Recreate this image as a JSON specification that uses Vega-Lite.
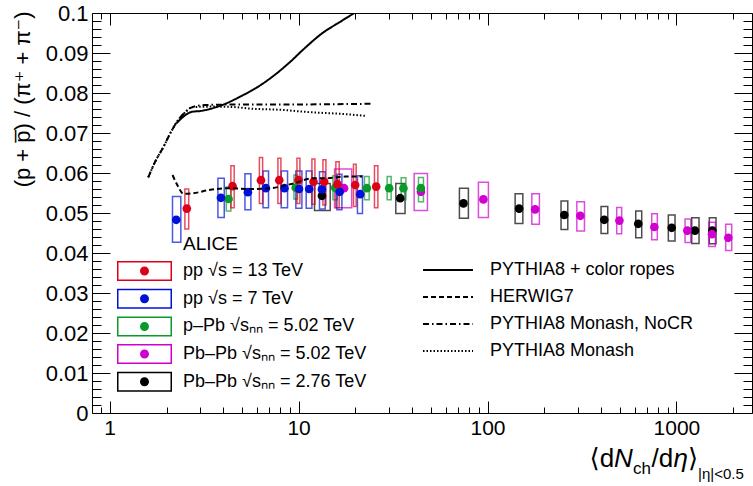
{
  "$schema": "https://vega.github.io/schema/vega-lite/v6.json",
  "width": 660,
  "height": 400,
  "autosize": {"type": "none"},
  "padding": {"left": 92, "top": 13, "right": 1, "bottom": 73},
  "background": "white",
  "config": {
    "view": {"stroke": null},
    "axis": {"grid": false, "domainColor": "#000", "domainWidth": 1, "tickColor": "#000", "tickWidth": 1, "labelColor": "#000", "titleColor": "#000", "labelFont": "Liberation Sans", "titleFont": "Liberation Sans, DejaVu Sans", "titleFontWeight": "normal", "labelOverlap": false, "labelFlush": false, "labelBound": false},
    "legend": {"labelFont": "Liberation Sans", "titleFont": "Liberation Sans", "labelColor": "#000", "titleColor": "#000"}
  },
  "datasets": {
    "pts": [
      {"sys": "Pb–Pb √sₙₙ = 2.76 TeV", "x": 13.29, "y": 0.0543, "xlo": 12.14, "xhi": 14.70, "ylo": 0.0506, "yhi": 0.0574},
      {"sys": "Pb–Pb √sₙₙ = 2.76 TeV", "x": 34.5, "y": 0.0537, "xlo": 32.7, "xhi": 36.6, "ylo": 0.0499, "yhi": 0.0574},
      {"sys": "Pb–Pb √sₙₙ = 2.76 TeV", "x": 74.6, "y": 0.0524, "xlo": 71.0, "xhi": 79.2, "ylo": 0.0487, "yhi": 0.0562},
      {"sys": "Pb–Pb √sₙₙ = 2.76 TeV", "x": 147, "y": 0.0511, "xlo": 140, "xhi": 153.8, "ylo": 0.0474, "yhi": 0.0548},
      {"sys": "Pb–Pb √sₙₙ = 2.76 TeV", "x": 255, "y": 0.0495, "xlo": 245, "xhi": 266, "ylo": 0.0459, "yhi": 0.0530},
      {"sys": "Pb–Pb √sₙₙ = 2.76 TeV", "x": 415, "y": 0.0483, "xlo": 399, "xhi": 433, "ylo": 0.0449, "yhi": 0.0516},
      {"sys": "Pb–Pb √sₙₙ = 2.76 TeV", "x": 628, "y": 0.0473, "xlo": 609, "xhi": 655, "ylo": 0.0438, "yhi": 0.0505},
      {"sys": "Pb–Pb √sₙₙ = 2.76 TeV", "x": 944, "y": 0.0463, "xlo": 906, "xhi": 983, "ylo": 0.0430, "yhi": 0.0495},
      {"sys": "Pb–Pb √sₙₙ = 2.76 TeV", "x": 1254, "y": 0.0456, "xlo": 1205, "xhi": 1317, "ylo": 0.0424, "yhi": 0.0488},
      {"sys": "Pb–Pb √sₙₙ = 2.76 TeV", "x": 1549, "y": 0.0456, "xlo": 1493, "xhi": 1620, "ylo": 0.0423, "yhi": 0.0488},
      {"sys": "Pb–Pb √sₙₙ = 5.02 TeV", "x": 17.4, "y": 0.0562, "xlo": 15.5, "xhi": 19.1, "ylo": 0.0513, "yhi": 0.0610},
      {"sys": "Pb–Pb √sₙₙ = 5.02 TeV", "x": 44.4, "y": 0.0553, "xlo": 40.9, "xhi": 48.1, "ylo": 0.0506, "yhi": 0.0599},
      {"sys": "Pb–Pb √sₙₙ = 5.02 TeV", "x": 95.1, "y": 0.0534, "xlo": 89.5, "xhi": 101.1, "ylo": 0.0489, "yhi": 0.0577},
      {"sys": "Pb–Pb √sₙₙ = 5.02 TeV", "x": 178.6, "y": 0.0509, "xlo": 171.6, "xhi": 188.2, "ylo": 0.0472, "yhi": 0.0548},
      {"sys": "Pb–Pb √sₙₙ = 5.02 TeV", "x": 310, "y": 0.0493, "xlo": 297, "xhi": 326, "ylo": 0.0455, "yhi": 0.0528},
      {"sys": "Pb–Pb √sₙₙ = 5.02 TeV", "x": 499, "y": 0.0481, "xlo": 483, "xhi": 513, "ylo": 0.0448, "yhi": 0.0514},
      {"sys": "Pb–Pb √sₙₙ = 5.02 TeV", "x": 764, "y": 0.0465, "xlo": 740, "xhi": 792, "ylo": 0.0433, "yhi": 0.0498},
      {"sys": "Pb–Pb √sₙₙ = 5.02 TeV", "x": 1142, "y": 0.0456, "xlo": 1111, "xhi": 1191, "ylo": 0.0426, "yhi": 0.0485},
      {"sys": "Pb–Pb √sₙₙ = 5.02 TeV", "x": 1543, "y": 0.0447, "xlo": 1482, "xhi": 1607, "ylo": 0.0416, "yhi": 0.0477},
      {"sys": "Pb–Pb √sₙₙ = 5.02 TeV", "x": 1882, "y": 0.0438, "xlo": 1823, "xhi": 1962, "ylo": 0.0406, "yhi": 0.0472},
      {"sys": "p–Pb √sₙₙ = 5.02 TeV", "x": 4.26, "y": 0.0535, "xlo": 4.14, "xhi": 4.38, "ylo": 0.0505, "yhi": 0.0565},
      {"sys": "p–Pb √sₙₙ = 5.02 TeV", "x": 9.65, "y": 0.0563, "xlo": 9.45, "xhi": 9.87, "ylo": 0.0535, "yhi": 0.0595},
      {"sys": "p–Pb √sₙₙ = 5.02 TeV", "x": 15.62, "y": 0.0563, "xlo": 15.2, "xhi": 16.0, "ylo": 0.0533, "yhi": 0.0593},
      {"sys": "p–Pb √sₙₙ = 5.02 TeV", "x": 22.98, "y": 0.0562, "xlo": 22.32, "xhi": 23.63, "ylo": 0.0533, "yhi": 0.0591},
      {"sys": "p–Pb √sₙₙ = 5.02 TeV", "x": 30.16, "y": 0.0562, "xlo": 29.43, "xhi": 30.90, "ylo": 0.0533, "yhi": 0.0591},
      {"sys": "p–Pb √sₙₙ = 5.02 TeV", "x": 35.89, "y": 0.0562, "xlo": 34.91, "xhi": 36.97, "ylo": 0.0533, "yhi": 0.0588},
      {"sys": "p–Pb √sₙₙ = 5.02 TeV", "x": 44.37, "y": 0.0562, "xlo": 43.1, "xhi": 45.8, "ylo": 0.0528, "yhi": 0.0589},
      {"sys": "pp √s = 7 TeV", "x": 2.25, "y": 0.0483, "xlo": 2.15, "xhi": 2.38, "ylo": 0.0427, "yhi": 0.0541},
      {"sys": "pp √s = 7 TeV", "x": 3.88, "y": 0.0538, "xlo": 3.74, "xhi": 4.04, "ylo": 0.0489, "yhi": 0.0587},
      {"sys": "pp √s = 7 TeV", "x": 5.39, "y": 0.0552, "xlo": 5.20, "xhi": 5.59, "ylo": 0.0508, "yhi": 0.0598},
      {"sys": "pp √s = 7 TeV", "x": 6.71, "y": 0.0562, "xlo": 6.48, "xhi": 6.93, "ylo": 0.0513, "yhi": 0.0605},
      {"sys": "pp √s = 7 TeV", "x": 8.42, "y": 0.0562, "xlo": 8.09, "xhi": 8.74, "ylo": 0.0513, "yhi": 0.0605},
      {"sys": "pp √s = 7 TeV", "x": 10.05, "y": 0.0560, "xlo": 9.67, "xhi": 10.41, "ylo": 0.0512, "yhi": 0.0605},
      {"sys": "pp √s = 7 TeV", "x": 11.38, "y": 0.0560, "xlo": 10.97, "xhi": 11.76, "ylo": 0.0512, "yhi": 0.0605},
      {"sys": "pp √s = 7 TeV", "x": 13.29, "y": 0.0559, "xlo": 12.90, "xhi": 13.83, "ylo": 0.0510, "yhi": 0.0603},
      {"sys": "pp √s = 7 TeV", "x": 16.5, "y": 0.0553, "xlo": 15.95, "xhi": 16.95, "ylo": 0.0508, "yhi": 0.0597},
      {"sys": "pp √s = 7 TeV", "x": 21.18, "y": 0.0547, "xlo": 20.49, "xhi": 21.78, "ylo": 0.0499, "yhi": 0.0593},
      {"sys": "pp √s = 13 TeV", "x": 2.56, "y": 0.0511, "xlo": 2.50, "xhi": 2.62, "ylo": 0.0460, "yhi": 0.0560},
      {"sys": "pp √s = 13 TeV", "x": 4.47, "y": 0.0567, "xlo": 4.38, "xhi": 4.56, "ylo": 0.0513, "yhi": 0.0618},
      {"sys": "pp √s = 13 TeV", "x": 6.32, "y": 0.0582, "xlo": 6.20, "xhi": 6.45, "ylo": 0.0524, "yhi": 0.0639},
      {"sys": "pp √s = 13 TeV", "x": 7.90, "y": 0.0582, "xlo": 7.77, "xhi": 8.06, "ylo": 0.0524, "yhi": 0.0637},
      {"sys": "pp √s = 13 TeV", "x": 9.99, "y": 0.0582, "xlo": 9.80, "xhi": 10.16, "ylo": 0.0524, "yhi": 0.0637},
      {"sys": "pp √s = 13 TeV", "x": 11.99, "y": 0.0578, "xlo": 11.76, "xhi": 12.20, "ylo": 0.0522, "yhi": 0.0635},
      {"sys": "pp √s = 13 TeV", "x": 13.66, "y": 0.0578, "xlo": 13.45, "xhi": 13.95, "ylo": 0.0520, "yhi": 0.0633},
      {"sys": "pp √s = 13 TeV", "x": 16.06, "y": 0.0572, "xlo": 15.75, "xhi": 16.40, "ylo": 0.0513, "yhi": 0.0628},
      {"sys": "pp √s = 13 TeV", "x": 19.93, "y": 0.0570, "xlo": 19.52, "xhi": 20.17, "ylo": 0.0516, "yhi": 0.0622},
      {"sys": "pp √s = 13 TeV", "x": 25.74, "y": 0.0566, "xlo": 25.21, "xhi": 26.28, "ylo": 0.0513, "yhi": 0.0618}
    ],
    "models": [
      {"model": "PYTHIA8 + color ropes", "x": 2.25, "y": 0.0724},
      {"model": "PYTHIA8 + color ropes", "x": 2.73, "y": 0.0753},
      {"model": "PYTHIA8 + color ropes", "x": 3.02, "y": 0.0755},
      {"model": "PYTHIA8 + color ropes", "x": 3.62, "y": 0.0764},
      {"model": "PYTHIA8 + color ropes", "x": 4.09, "y": 0.0773},
      {"model": "PYTHIA8 + color ropes", "x": 4.91, "y": 0.0791},
      {"model": "PYTHIA8 + color ropes", "x": 6.02, "y": 0.0814},
      {"model": "PYTHIA8 + color ropes", "x": 7.37, "y": 0.0843},
      {"model": "PYTHIA8 + color ropes", "x": 9.03, "y": 0.0878},
      {"model": "PYTHIA8 + color ropes", "x": 10.6, "y": 0.0909},
      {"model": "PYTHIA8 + color ropes", "x": 13.3, "y": 0.0949},
      {"model": "PYTHIA8 + color ropes", "x": 16.6, "y": 0.0978},
      {"model": "PYTHIA8 + color ropes", "x": 19.9, "y": 0.1001},
      {"model": "HERWIG7", "x": 2.15, "y": 0.0595},
      {"model": "HERWIG7", "x": 2.28, "y": 0.0570},
      {"model": "HERWIG7", "x": 2.46, "y": 0.0548},
      {"model": "HERWIG7", "x": 2.73, "y": 0.0549},
      {"model": "HERWIG7", "x": 3.41, "y": 0.0558},
      {"model": "HERWIG7", "x": 4.17, "y": 0.0562},
      {"model": "HERWIG7", "x": 5.55, "y": 0.0560},
      {"model": "HERWIG7", "x": 7.07, "y": 0.0562},
      {"model": "HERWIG7", "x": 9.40, "y": 0.0574},
      {"model": "HERWIG7", "x": 11.95, "y": 0.0587},
      {"model": "HERWIG7", "x": 14.2, "y": 0.0587},
      {"model": "HERWIG7", "x": 17.6, "y": 0.0591},
      {"model": "HERWIG7", "x": 21.7, "y": 0.0591},
      {"model": "PYTHIA8 Monash, NoCR", "x": 1.60, "y": 0.0589},
      {"model": "PYTHIA8 Monash, NoCR", "x": 1.74, "y": 0.0628},
      {"model": "PYTHIA8 Monash, NoCR", "x": 1.93, "y": 0.0666},
      {"model": "PYTHIA8 Monash, NoCR", "x": 2.09, "y": 0.0699},
      {"model": "PYTHIA8 Monash, NoCR", "x": 2.27, "y": 0.0728},
      {"model": "PYTHIA8 Monash, NoCR", "x": 2.46, "y": 0.0748},
      {"model": "PYTHIA8 Monash, NoCR", "x": 2.78, "y": 0.0766},
      {"model": "PYTHIA8 Monash, NoCR", "x": 3.2, "y": 0.0770},
      {"model": "PYTHIA8 Monash, NoCR", "x": 4.35, "y": 0.0771},
      {"model": "PYTHIA8 Monash, NoCR", "x": 8.0, "y": 0.0771},
      {"model": "PYTHIA8 Monash, NoCR", "x": 14.7, "y": 0.0772},
      {"model": "PYTHIA8 Monash, NoCR", "x": 24.4, "y": 0.0773},
      {"model": "PYTHIA8 Monash", "x": 1.60, "y": 0.0589},
      {"model": "PYTHIA8 Monash", "x": 1.74, "y": 0.0628},
      {"model": "PYTHIA8 Monash", "x": 1.93, "y": 0.0666},
      {"model": "PYTHIA8 Monash", "x": 2.09, "y": 0.0699},
      {"model": "PYTHIA8 Monash", "x": 2.27, "y": 0.0728},
      {"model": "PYTHIA8 Monash", "x": 2.46, "y": 0.0748},
      {"model": "PYTHIA8 Monash", "x": 2.78, "y": 0.0765},
      {"model": "PYTHIA8 Monash", "x": 3.62, "y": 0.0766},
      {"model": "PYTHIA8 Monash", "x": 4.52, "y": 0.0765},
      {"model": "PYTHIA8 Monash", "x": 5.55, "y": 0.0761},
      {"model": "PYTHIA8 Monash", "x": 8.0, "y": 0.0758},
      {"model": "PYTHIA8 Monash", "x": 11.5, "y": 0.0752},
      {"model": "PYTHIA8 Monash", "x": 16.6, "y": 0.0748},
      {"model": "PYTHIA8 Monash", "x": 22.5, "y": 0.0743}
    ]
  },
  "resolve": {"axis": {"x": "independent", "y": "independent"}},
  "layer": [
    {
      "data": {"name": "pts"},
      "transform": [{"filter": {"field": "sys", "oneOf": ["Pb–Pb √sₙₙ = 2.76 TeV", "Pb–Pb √sₙₙ = 5.02 TeV"]}}],
      "mark": {"type": "rect", "filled": false, "strokeWidth": 1.5, "strokeOpacity": 0.7},
      "encoding": {
        "x": {"field": "xlo", "type": "quantitative", "scale": {"type": "log", "domain": [0.806, 2512], "nice": false},
          "axis": {"orient": "bottom", "values": [1, 10, 100, 1000], "tickSize": -12, "labelPadding": 16, "labelFontSize": 21, "labelExpr": "format(datum.value, 'd')", "domain": true,
            "title": "⟨d", "titleFontSize": 26, "titleX": 497, "titleY": 53, "titleAlign": "left", "titleBaseline": "alphabetic"}},
        "x2": {"field": "xhi"},
        "y": {"field": "ylo", "type": "quantitative", "scale": {"domain": [0, 0.1], "nice": false, "zero": false},
          "axis": {"orient": "left", "values": [0, 0.01, 0.02, 0.03, 0.04, 0.05, 0.06, 0.07, 0.08, 0.09, 0.1], "tickSize": -18, "labelPadding": 22, "labelFontSize": 22, "labelExpr": "datum.value == 0 ? '0' : format(datum.value, '.2~f')", "domain": true,
            "title": "(p + p\u0305) / (π⁺ + π⁻)", "titleFontSize": 22, "titleAngle": -90, "titleX": -70, "titleY": -2, "titleAlign": "right", "titleBaseline": "middle"}},
        "y2": {"field": "yhi"},
        "stroke": {"field": "sys", "type": "nominal", "legend": null,
          "scale": {"domain": ["Pb–Pb √sₙₙ = 2.76 TeV", "Pb–Pb √sₙₙ = 5.02 TeV", "p–Pb √sₙₙ = 5.02 TeV", "pp √s = 7 TeV", "pp √s = 13 TeV"], "range": ["#000000", "#d000d0", "#0a9a2a", "#0010d8", "#dd0019"]}}
      }
    },
    {
      "data": {"name": "pts"},
      "transform": [{"filter": {"field": "sys", "oneOf": ["p–Pb √sₙₙ = 5.02 TeV", "pp √s = 7 TeV", "pp √s = 13 TeV"]}}],
      "mark": {"type": "rect", "filled": false, "strokeWidth": 1.5, "strokeOpacity": 0.7},
      "encoding": {
        "x": {"field": "xlo", "type": "quantitative", "scale": {"type": "log", "domain": [0.806, 2512], "nice": false},
          "axis": {"orient": "bottom", "values": [0.9, 2, 3, 4, 5, 6, 7, 8, 9, 20, 30, 40, 50, 60, 70, 80, 90, 200, 300, 400, 500, 600, 700, 800, 900, 2000], "tickSize": -6, "labels": false, "domain": false,
            "title": "N", "titleFontSize": 26, "titleFontStyle": "italic", "titleX": 521.6, "titleY": 53, "titleAlign": "left", "titleBaseline": "alphabetic"}},
        "x2": {"field": "xhi"},
        "y": {"field": "ylo", "type": "quantitative", "scale": {"domain": [0, 0.1], "nice": false, "zero": false},
          "axis": {"orient": "left", "values": [0.002, 0.004, 0.006, 0.008, 0.012, 0.014, 0.016, 0.018, 0.022, 0.024, 0.026, 0.028, 0.032, 0.034, 0.036, 0.038, 0.042, 0.044, 0.046, 0.048, 0.052, 0.054, 0.056, 0.058, 0.062, 0.064, 0.066, 0.068, 0.072, 0.074, 0.076, 0.078, 0.082, 0.084, 0.086, 0.088, 0.092, 0.094, 0.096, 0.098], "tickSize": -9, "labels": false, "domain": false,
            "title": "η", "titleFontSize": 26, "titleFontStyle": "italic", "titleAngle": 0, "titleX": 581, "titleY": 453, "titleAlign": "left", "titleBaseline": "alphabetic"}},
        "y2": {"field": "yhi"},
        "stroke": {"field": "sys", "type": "nominal", "legend": null,
          "scale": {"domain": ["Pb–Pb √sₙₙ = 2.76 TeV", "Pb–Pb √sₙₙ = 5.02 TeV", "p–Pb √sₙₙ = 5.02 TeV", "pp √s = 7 TeV", "pp √s = 13 TeV"], "range": ["#000000", "#d000d0", "#0a9a2a", "#0010d8", "#dd0019"]}}
      }
    },
    {
      "data": {"name": "pts"},
      "mark": {"type": "point", "filled": true, "shape": "circle", "size": 75, "opacity": 1, "strokeWidth": 0},
      "encoding": {
        "x": {"field": "x", "type": "quantitative", "scale": {"type": "log", "domain": [0.806, 2512], "nice": false},
          "axis": {"orient": "top", "values": [1, 10, 100, 1000], "tickSize": -12, "labels": false, "domain": true,
            "title": "ch", "titleFontSize": 17, "titleX": 540.4, "titleY": 460, "titleAlign": "left", "titleBaseline": "alphabetic"}},
        "y": {"field": "y", "type": "quantitative", "scale": {"domain": [0, 0.1], "nice": false, "zero": false},
          "axis": {"orient": "right", "values": [0, 0.01, 0.02, 0.03, 0.04, 0.05, 0.06, 0.07, 0.08, 0.09, 0.1], "tickSize": -18, "labels": false, "domain": true,
            "title": "⟩", "titleFontSize": 26, "titleAngle": 0, "titleX": -64.5, "titleY": 453, "titleAlign": "left", "titleBaseline": "alphabetic"}},
        "color": {"field": "sys", "type": "nominal",
          "scale": {"domain": ["pp √s = 13 TeV", "pp √s = 7 TeV", "p–Pb √sₙₙ = 5.02 TeV", "Pb–Pb √sₙₙ = 5.02 TeV", "Pb–Pb √sₙₙ = 2.76 TeV"], "range": ["#dd0019", "#0010d8", "#0a9a2a", "#d000d0", "#000000"]},
          "legend": {"title": "ALICE", "orient": "none", "direction": "vertical", "legendX": 42.5, "legendY": 222, "padding": 0,
            "symbolType": "M-2.75,-1H2.75V1H-2.75Z M-2.6,-0.85V0.85H2.6V-0.85Z M0.45,0A0.45,0.45,0,1,1,-0.45,0A0.45,0.45,0,1,1,0.45,0Z",
            "symbolSize": 400, "symbolStrokeWidth": 0, "symbolOpacity": 1, "labelFontSize": 18, "labelOffset": 28.5, "rowPadding": 7.7,
            "titleFontSize": 19, "titleFontWeight": "normal", "titlePadding": 7, "labelLimit": 400,
            "encode": {"title": {"update": {"dx": {"value": 48.5}}}}}}
      }
    },
    {
      "data": {"name": "models"},
      "mark": {"type": "line", "color": "#000", "strokeWidth": 2, "interpolate": "monotone", "clip": true},
      "encoding": {
        "x": {"field": "x", "type": "quantitative", "scale": {"type": "log", "domain": [0.806, 2512], "nice": false},
          "axis": {"orient": "top", "values": [0.9, 2, 3, 4, 5, 6, 7, 8, 9, 20, 30, 40, 50, 60, 70, 80, 90, 200, 300, 400, 500, 600, 700, 800, 900, 2000], "tickSize": -6, "labels": false, "domain": false,
            "title": "/d", "titleFontSize": 26, "titleX": 559, "titleY": 453, "titleAlign": "left", "titleBaseline": "alphabetic"}},
        "y": {"field": "y", "type": "quantitative", "scale": {"domain": [0, 0.1], "nice": false, "zero": false},
          "axis": {"orient": "right", "values": [0.002, 0.004, 0.006, 0.008, 0.012, 0.014, 0.016, 0.018, 0.022, 0.024, 0.026, 0.028, 0.032, 0.034, 0.036, 0.038, 0.042, 0.044, 0.046, 0.048, 0.052, 0.054, 0.056, 0.058, 0.062, 0.064, 0.066, 0.068, 0.072, 0.074, 0.076, 0.078, 0.082, 0.084, 0.086, 0.088, 0.092, 0.094, 0.096, 0.098], "tickSize": -9, "labels": false, "domain": false,
            "title": "|η|<0.5", "titleFontSize": 15, "titleAngle": 0, "titleX": -54.5, "titleY": 465, "titleAlign": "left", "titleBaseline": "alphabetic"}},
        "strokeDash": {"field": "model", "type": "nominal",
          "scale": {"domain": ["PYTHIA8 + color ropes", "HERWIG7", "PYTHIA8 Monash, NoCR", "PYTHIA8 Monash"], "range": [[1, 0], [5, 3], [6, 3, 1.5, 3], [1.5, 2]]},
          "legend": {"title": null, "orient": "none", "direction": "vertical", "legendX": 330, "legendY": 247, "padding": 0,
            "symbolType": "stroke", "symbolSize": 2500, "symbolStrokeWidth": 2, "symbolStrokeColor": "#000", "clipHeight": 20, "rowPadding": 7,
            "labelFontSize": 18, "labelOffset": 16, "labelLimit": 400}}
      }
    }
  ]
}
